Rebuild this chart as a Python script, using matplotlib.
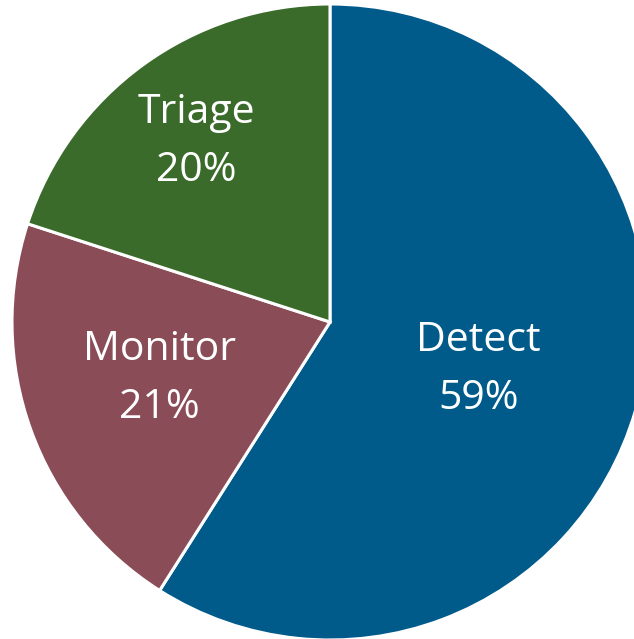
import numpy as np
import matplotlib
matplotlib.use('Agg')
from matplotlib import pyplot as plt

labels = ['Detect', 'Monitor', 'Triage']
shares = [59, 21, 20]
colors = ['#005A8A', '#8A4C57', '#3A6B2A']
# label placement per slice: distance from centre (fraction of radius), angle nudge (deg)
label_r = [0.49, 0.565, 0.705]
label_nudge = [-1.5, -1.5, 0.5]

fig = plt.figure(figsize=(6.34, 6.39), dpi=100)
ax = fig.add_axes([0, 0, 1, 1])

wedges, _ = ax.pie(shares, colors=colors, startangle=90, counterclock=False,
                   wedgeprops=dict(edgecolor='white', linewidth=2.2))

for w, lab, val, r, dn in zip(wedges, labels, shares, label_r, label_nudge):
    ang = np.deg2rad((w.theta1 + w.theta2) / 2 + dn)
    ax.text(r * np.cos(ang), r * np.sin(ang), f'{lab}\n{val}%',
            ha='center', va='center', color='white', fontsize=29.5,
            family='Open Sans', linespacing=1.58)

# centre at pixel (330, 322), radius 318 px
ax.set_xlim(-330 / 318, (634 - 330) / 318)
ax.set_ylim(-(639 - 322) / 318, 322 / 318)
ax.set_aspect('auto')
ax.axis('off')

fig.savefig('out.png', dpi=100)
